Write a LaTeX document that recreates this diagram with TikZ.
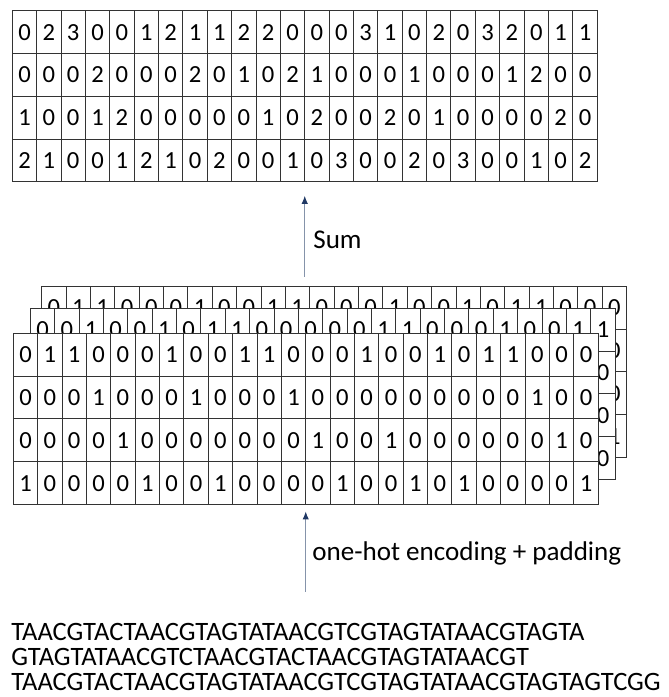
\documentclass[tikz,border=0pt]{standalone}
\usepackage{fontspec}
\setmainfont{Carlito}
\usetikzlibrary{arrows.meta,calc}

\definecolor{arrowline}{HTML}{8593AA}
\definecolor{arrowtip}{HTML}{1F3864}

% one grid of cells: name, left x, top y, list of rows
\newcommand{\onehotgrid}[4]{%
  \foreach \row [count=\r] in #4 {
    \foreach \d [count=\c] in \row {
      \node[cell] (#1-\r-\c) at ({#2+(\c-0.5)*\cw},{#3+(\r-0.5)*\ch}) {\d};
    }
  }%
}

\begin{document}
\begin{tikzpicture}[
  x=0.02cm, y=-0.02cm,
  cell/.style={draw=black!80, fill=white, line width=0.55pt, inner sep=0pt, outer sep=0pt,
    minimum width=\cw*0.2mm, minimum height=\ch*0.2mm, text depth=-1pt,
    font=\fontsize{14}{16}\selectfont},
  flow/.style={-{Latex[length=4.5pt,width=3.6pt,color=arrowtip]}, line width=0.5pt, draw=arrowline},
  label/.style={anchor=west, inner sep=0pt, font=\fontsize{15.4}{17}\selectfont}
]
\useasboundingbox (0,0) rectangle (669,697);

\def\cw{24.37}
\def\ch{42.8}

\def\sumrows{{0,2,3,0,0,1,2,1,1,2,2,0,0,0,3,1,0,2,0,3,2,0,1,1},
  {0,0,0,2,0,0,0,2,0,1,0,2,1,0,0,0,1,0,0,0,1,2,0,0},
  {1,0,0,1,2,0,0,0,0,0,1,0,2,0,0,2,0,1,0,0,0,0,2,0},
  {2,1,0,0,1,2,1,0,2,0,0,1,0,3,0,0,2,0,3,0,0,1,0,2}}
\def\firstrows{{0,1,1,0,0,0,1,0,0,1,1,0,0,0,1,0,0,1,0,1,1,0,0,0},
  {0,0,0,1,0,0,0,1,0,0,0,1,0,0,0,0,0,0,0,0,0,1,0,0},
  {0,0,0,0,1,0,0,0,0,0,0,0,1,0,0,1,0,0,0,0,0,0,1,0},
  {1,0,0,0,0,1,0,0,1,0,0,0,0,1,0,0,1,0,1,0,0,0,0,1}}
\def\secondrows{{0,0,1,0,0,1,0,1,1,0,0,0,0,0,1,1,0,0,0,1,0,0,1,1},
  {0,0,0,0,0,0,0,0,0,1,0,0,1,0,0,0,1,0,0,0,1,0,0,0},
  {1,0,0,1,0,0,0,0,0,0,1,0,0,0,0,0,0,1,0,0,0,0,0,0},
  {0,1,0,0,1,0,1,0,0,0,0,1,0,1,0,0,0,0,1,0,0,1,0,0}}

% summed counts
\onehotgrid{sum}{12.3}{10.7}{\sumrows}

% stacked one-hot matrices, back to front
\onehotgrid{seqc}{41.7}{286.3}{\firstrows}
\onehotgrid{seqb}{30.3}{308.3}{\secondrows}
\onehotgrid{seqa}{13.3}{333.3}{\firstrows}

% arrows and their labels
\coordinate (sumtip) at ($(sum-4-12.south east)+(0,14)$);
\coordinate (sumfoot) at ($(sum-4-12.south east)+(0,95)$);
\draw[flow] (sumfoot) -- (sumtip);
\node[label] (sumlabel) at (313,240) {Sum};

\coordinate (enctip) at ($(seqa-4-12.south east)+(0,7)$);
\coordinate (encfoot) at ($(seqa-4-12.south east)+(0,87)$);
\draw[flow] (encfoot) -- (enctip);
\node[label] (enclabel) at (312,553) {one-hot encoding + padding};

% input sequences
\node[label, align=left, font=\fontsize{15.1}{14.2}\selectfont] (seqs) at (11,657)
  {TAACGTACTAACGTAGTATAACGTCGTAGTATAACGTAGTA\\
   GTAGTATAACGTCTAACGTACTAACGTAGTATAACGT\\
   TAACGTACTAACGTAGTATAACGTCGTAGTATAACGTAGTAGTCGG};
\end{tikzpicture}
\end{document}
